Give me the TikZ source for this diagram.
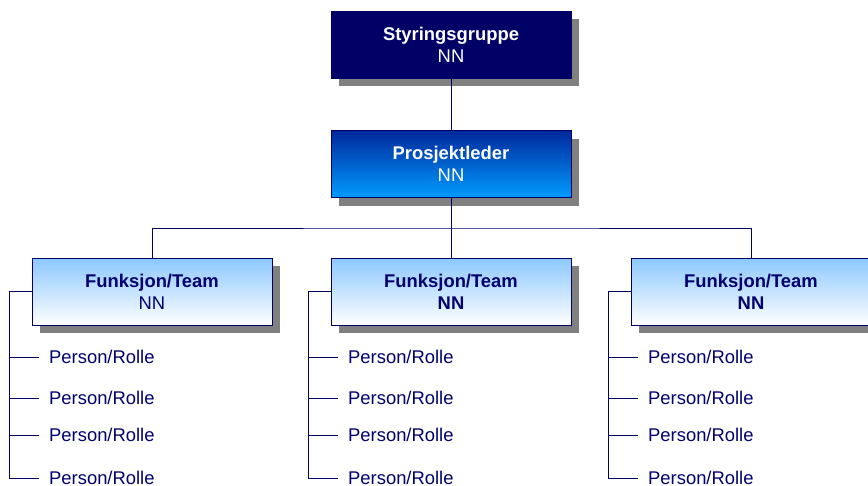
\documentclass[tikz,border=0pt]{standalone}
\usepackage{fontspec}
\setmainfont{Liberation Sans}
\usetikzlibrary{shadows}
\definecolor{navy}{RGB}{0,0,102}
\definecolor{textnavy}{RGB}{0,0,110}
\definecolor{pltop}{RGB}{0,40,155}
\definecolor{plbot}{RGB}{0,155,255}
\definecolor{ftop}{RGB}{140,200,255}
\definecolor{shadowgray}{RGB}{128,128,128}
\tikzset{
  box/.style={draw=navy, line width=0.8pt, minimum width=240pt, minimum height=67pt,
    inner sep=0pt, align=center, font=\fontsize{18.4}{22}\selectfont,
    drop shadow={shadow xshift=8pt, shadow yshift=-8pt, fill=shadowgray, opacity=1}},
  sgbox/.style={box, fill=navy, text=white},
  plbox/.style={box, top color=pltop, bottom color=plbot, text=white},
  fbox/.style={box, top color=ftop, bottom color=white, text=textnavy},
  person/.style={anchor=west, inner sep=0pt, text=textnavy, font=\fontsize{18.4}{22}\selectfont},
  conn/.style={draw=navy, line width=1pt}
}
\begin{document}
\begin{tikzpicture}[x=1pt,y=-1pt]
\useasboundingbox (0,0) rectangle (868,485);
\clip (0,0) rectangle (868,485);
\node[sgbox] (sg) at (451,44.5) {\textbf{Styringsgruppe}\\NN};
\node[plbox] (pl) at (451,164) {\textbf{Prosjektleder}\\NN};
\coordinate (bus) at (451,228);
\foreach \i/\x/\nn in {1/152/{NN},2/451/{\textbf{NN}},3/751/{\textbf{NN}}}{
  \node[fbox] (f\i) at (\x,291.5) {\textbf{Funksjon/Team}\\\nn};
  \coordinate (s\i) at (\x-143,478);
  \foreach \j/\y in {1/357,2/398,3/435,4/478}{
    \node[person] (p\i\j) at (\x-103,\y) {Person/Rolle};
    \draw[conn] (s\i |- p\i\j.west) -- ([xshift=-10pt]p\i\j.west);
  }
  \draw[conn] (f\i.west) -| (s\i);
}
\draw[conn] (sg) -- (pl);
\draw[conn] (pl.south) -- (bus);
\draw[conn] (f1.north) |- (bus) -| (f3.north);
\draw[conn] (bus) -- (f2.north);
\end{tikzpicture}
\end{document}
